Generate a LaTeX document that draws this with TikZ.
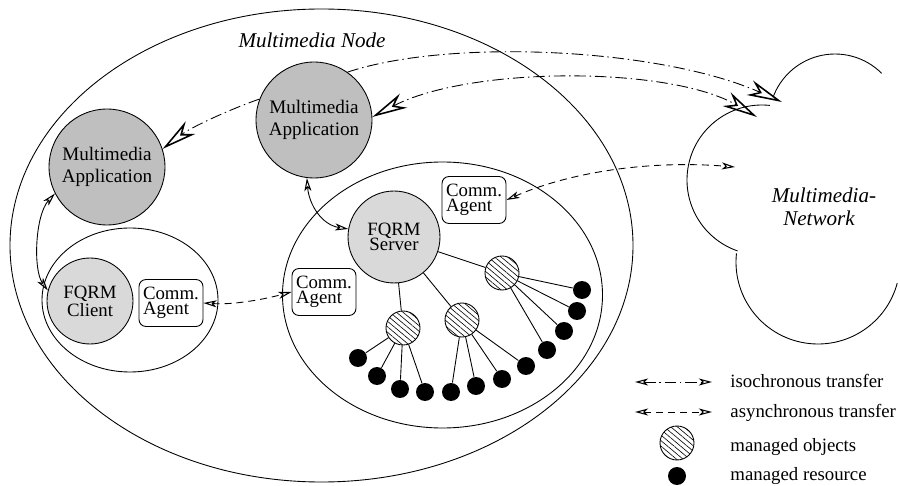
\documentclass[tikz,border=0pt]{standalone}
\usepackage{fontspec}
\setmainfont{Liberation Serif}
\usetikzlibrary{arrows.meta,patterns.meta,positioning}
\definecolor{appgray}{gray}{0.75}
\definecolor{fqrmgray}{gray}{0.85}
\tikzset{
  app/.style={circle,draw,fill=appgray,minimum size=2.32cm,inner sep=0pt,align=center,font=\fontsize{10.9}{12.5}\selectfont},
  fqrm/.style={circle,draw,fill=fqrmgray,inner sep=0pt,align=center,font=\fontsize{10.7}{8.9}\selectfont},
  agent/.style={draw,rounded corners=4pt,minimum width=1.28cm,minimum height=0.94cm,inner sep=0pt,align=left,font=\fontsize{10.7}{8.2}\selectfont},
  mobj/.style={circle,draw,minimum size=0.68cm,inner sep=0pt,pattern={Lines[angle=-40,distance=2.4pt,line width=0.35pt]}},
  res/.style={circle,fill=black,minimum size=0.36cm,inner sep=0pt},
  lbl/.style={font=\fontsize{12}{13}\selectfont\itshape,align=left},
  legtxt/.style={anchor=base west,inner sep=0pt},
  iso/.style={dash pattern=on 6.5pt off 2.2pt on 0.8pt off 2.2pt},
  async/.style={dash pattern=on 4pt off 2.8pt},
  bigtip/.tip={Stealth[open,length=20pt,width=9pt,inset=6pt,line width=0.9pt]},
  smalltip/.tip={Stealth[open,length=7.5pt,width=4pt,inset=2pt,line width=0.6pt]},
}

\begin{document}
\begin{tikzpicture}[x=0.02cm,y=-0.02cm,line width=0.5pt,font=\fontsize{10.7}{13}\selectfont]
		\useasboundingbox (0,0) rectangle (900,486);
		%%%%% NODE %%%%%
		\draw (321.5,245.5) ellipse (311.5 and 236.5);
		\draw (130,300) ellipse (88 and 72);
		\draw (442.5,295) ellipse (160 and 133);
		\node[lbl,anchor=base] (nodelbl) at (312,48) {Multimedia Node};
		
		\node[app] (ma1) at (107,167) {Multimedia\\Application};
		\node[app] (ma2) at (314,120) {Multimedia\\Application};
		\node[fqrm,minimum size=1.72cm] (client) at (90,301) {FQRM\\Client};
		\node[agent] (cagent) at (171,303) {Comm.\\Agent};
		\node[fqrm,minimum size=1.84cm] (server) at (394,237) {FQRM\\Server};
		\node[agent] (sagent) at (324,292) {Comm.\\Agent};
		\node[agent] (nagent) at (474,200) {Comm.\\Agent};
		
		\node[mobj] (o1) at (403,328) {};
		\node[mobj] (o2) at (462,320) {};
		\node[mobj] (o3) at (502,273) {};
		\foreach \x/\y [count=\i] in {358/358,377/376,400/389,425/392,451/392,476/386,502/379,526/366,547/350,564/331,577/311,582/290}
			\node[res] (d\i) at (\x,\y) {};
		\foreach \o in {1,2,3}
			\draw (server) -- (o\o);
		\foreach \o/\a/\b in {1/1/4,2/5/8,3/9/12}
			\foreach \d in {\a,...,\b}
				\draw (o\o) -- (d\d);
		
		%%%%% NETWORK %%%%%
		\draw (835,120) ++(315:66) arc (315:200:66);
		\draw (762,180) ++(276:75) arc (276:109:75);
		\draw (818,262) ++(186:82) arc (186:15:82);
		\node[lbl] (netlbl) at (824,207) {Multimedia-\\\hspace*{6.5pt}Network};
		\coordinate (neta) at (782,102);
		\coordinate (netb) at (757,117);
		\coordinate (netc) at (735,167);
		
		%%%%% TRANSFERS %%%%%
		\draw[iso,-bigtip] (ma2.55) .. controls (450,38) and (660,48) .. (neta);
		\draw[iso,bigtip-bigtip] (ma2.3) .. controls (470,66) and (670,66) .. (netb);
		\draw[iso,-bigtip] (ma2.159) .. controls (228,110) and (190,128) .. (ma1.18);
		\draw[smalltip-smalltip] (ma1.207) .. controls (35,215) and (33,270) .. (client.166);
		\draw[smalltip-smalltip] (ma2.263) .. controls (309,205) and (322,225) .. (server.170);
		\draw[async,smalltip-smalltip] (cagent.east) .. controls (235,305) and (265,299) .. (sagent.west);
		\draw[async,smalltip-smalltip] (nagent.east) .. controls (570,172) and (650,160) .. (netc);
		
		%%%%% LEGEND %%%%%
		\coordinate (isoa) at (635,382);
		\coordinate (isob) at (712,382);
		\coordinate (asya) at (635,412);
		\coordinate (asyb) at (712,412);
		\draw[iso,smalltip-smalltip] (isoa) -- (isob);
		\draw[async,smalltip-smalltip] (asya) -- (asyb);
		\node[mobj] (legobj) at (677,443) {};
		\node[res] (legres) at (677,476) {};
		\node[legtxt] (isotxt) at (730,388) {isochronous transfer};
		\node[legtxt] (asytxt) at (730,418) {asynchronous transfer};
		\node[legtxt] (objtxt) at (730,452) {managed objects};
		\node[legtxt] (restxt) at (730,480) {managed resource};
	\end{tikzpicture}
\end{document}
